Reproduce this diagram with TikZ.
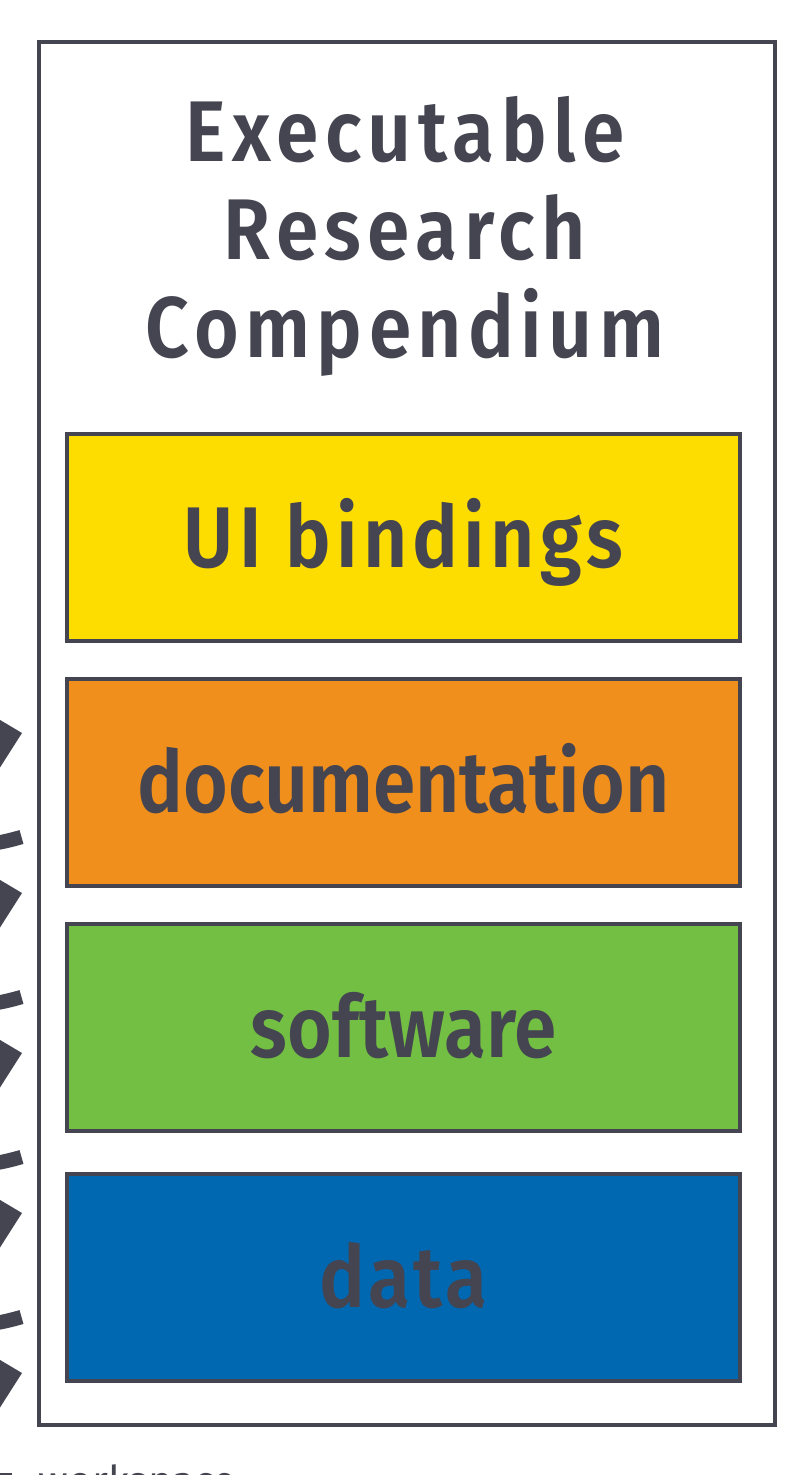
\documentclass[tikz,border=0pt]{standalone}
\usepackage{fontspec}
\setmainfont{Fira Sans}
\usepackage{tikz}
\usetikzlibrary{positioning}
\definecolor{Ink}{HTML}{454551}
\definecolor{Yellow}{HTML}{FDDC00}
\definecolor{Orange}{HTML}{F18F1C}
\definecolor{Green}{HTML}{72BF44}
\definecolor{Blue}{HTML}{0067B1}
\newfontfamily\labelfont[FakeStretch=0.89]{Fira Sans SemiBold}
\newfontfamily\titlefont[FakeStretch=0.89, LetterSpace=7.5]{Fira Sans SemiBold}

\begin{document}
\begin{tikzpicture}[
    layer/.style={draw=Ink, line width=1.15pt, minimum width=6.73cm, minimum height=2.07cm,
      outer sep=0pt, inner sep=0pt, text=Ink, text height=20pt, text depth=3pt,
      font=\labelfont\fontsize{24.5}{28}\selectfont},
    frame/.style={draw=Ink, line width=1.15pt, minimum width=7.36cm, minimum height=13.83cm,
      outer sep=0pt, inner sep=0pt},
    head/.style={fill=Ink, draw=none},
    tail/.style={draw=Ink, line width=4.1pt},
  ]
        \useasboundingbox (0,0) rectangle (8.1,-14.75);
        \clip (0,0) rectangle (8.1,-14.75);

        % compendium frame and title
        \node[frame] (erc) at (4.07,-7.335) {};
        \node[text=Ink, align=center, anchor=north, font=\titlefont\fontsize{24.5}{27.9}\selectfont]
            (title) at (4.05,-0.84) {Executable\\Research\\Compendium};

        % layers
        \node[layer, fill=Yellow] (ui) at (4.035,-5.375) {\addfontfeature{LetterSpace=6}UI bindings};
        \node[layer, fill=Orange, below=0.38cm of ui] (doc) {documentation};
        \node[layer, fill=Green, below=0.38cm of doc] (sw) {software};
        \node[layer, fill=Blue, below=0.43cm of sw] (data) {\addfontfeature{LetterSpace=3.5}data};

        % arrow pieces cut at the left edge
        \foreach \y in {0,1,2,3,4} {
            \coordinate (tip\y) at (0.22,-7.33-1.6*\y);
            \fill[head] (tip\y) -- ++(-0.37,0.22) -- ++(0,-0.8) -- cycle;
        }
        \foreach \y in {0,1,2,3} {
            \coordinate (end\y) at (0.215,-8.37-1.6*\y);
            \draw[tail] (end\y) to[bend left=8] ++(188:0.6);
        }

        % workspace label, cut at the bottom
        \fill[Ink] (-0.05,-14.73) rectangle (0.12,-14.77);
        \node[anchor=base west, inner sep=0pt, text=Ink, font=\fontsize{11.7}{14}\selectfont]
            (ws) at (0.38,-14.95) {workspace};
\end{tikzpicture}
\end{document}
